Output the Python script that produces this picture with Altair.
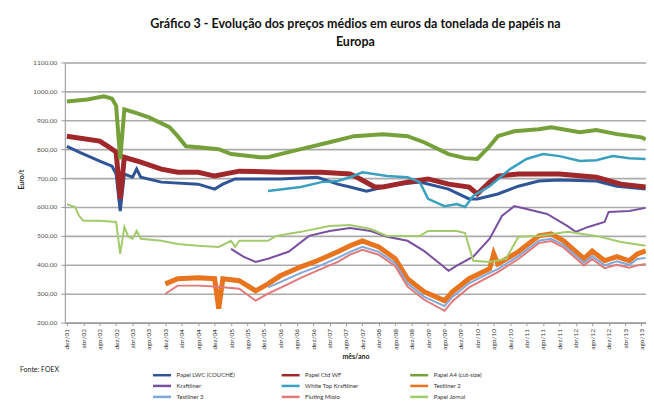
import json
import altair as alt
import pandas as pd

# Series names (legend order) and colours
names = [
    "Papel LWC (COUCHÉ)", "Papel Ctd WF", "Papel A4 (cut-size)",
    "Kraftliner", "White Top Kraftliner", "Testliner 2",
    "Testliner 3", "Fluting Miolo", "Papel Jornal",
]
colors = ["#2F5597", "#A0282A", "#76A13A", "#7950A0", "#3AA0BF",
          "#E9741E", "#7FA8DC", "#E27979", "#A3CB6B"]
widths = [3, 5, 4, 2, 2.5, 5, 2, 2, 2]

# month index: 0 = dez/01
lwc_m = [0, 3, 8, 11, 12, 13, 14, 16, 17, 18, 23, 32, 36, 38, 41, 52, 61, 66, 69, 73, 78, 81, 86, 93, 98, 100, 105, 110, 115, 120, 129, 134, 141]
lwc_v = [810, 790, 759, 741, 714, 586, 714, 703, 731, 703, 686, 679, 662, 679, 697, 697, 703, 679, 669, 655, 672, 679, 686, 662, 628, 628, 645, 672, 690, 693, 690, 672, 662]

ctd_m = [0, 8, 10, 12, 13, 14, 18, 23, 27, 32, 36, 42, 52, 62, 69, 71, 75, 77, 83, 88, 93, 98, 100, 103, 105, 110, 120, 129, 135, 141]
ctd_v = [845, 828, 810, 790, 628, 772, 755, 731, 720, 720, 707, 724, 720, 720, 714, 700, 669, 669, 686, 697, 679, 669, 645, 686, 707, 714, 714, 703, 679, 669]

a4_m = [0, 5, 9, 11, 12, 13, 14, 17, 20, 25, 27, 29, 32, 37, 40, 47, 49, 52, 57, 64, 70, 77, 83, 87, 93, 97, 100, 103, 105, 109, 115, 118, 125, 129, 134, 140, 141]
a4_v = [965, 972, 983, 975, 950, 765, 938, 925, 910, 876, 845, 810, 807, 800, 783, 772, 772, 783, 800, 824, 845, 852, 845, 824, 783, 769, 766, 810, 845, 862, 869, 876, 859, 866, 852, 841, 834]

kraft_m = [40, 43, 46, 49, 54, 59, 64, 69, 74, 78, 83, 87, 91, 93, 95, 99, 103, 106, 109, 112, 117, 122, 124, 127, 131, 132, 137, 141]
kraft_v = [455, 428, 410, 421, 445, 500, 517, 527, 517, 497, 483, 448, 403, 379, 397, 428, 490, 569, 603, 593, 576, 534, 514, 531, 548, 583, 586, 597]

wtk_m = [49, 57, 62, 66, 69, 72, 78, 83, 86, 88, 92, 95, 97, 99, 103, 108, 112, 116, 120, 125, 129, 133, 137, 141]
wtk_v = [655, 669, 686, 690, 703, 720, 707, 703, 686, 628, 603, 610, 600, 638, 672, 731, 766, 783, 776, 759, 762, 776, 769, 766]

tl2_m = [24, 27, 32, 36, 37, 38, 42, 46, 49, 52, 57, 61, 66, 69, 72, 76, 80, 83, 87, 92, 94, 98, 103, 104, 105, 110, 115, 118, 121, 126, 128, 131, 134, 137, 139, 141]
tl2_v = [334, 352, 355, 352, 248, 352, 345, 310, 334, 362, 393, 414, 445, 466, 483, 462, 421, 352, 307, 276, 307, 352, 386, 438, 403, 445, 500, 507, 483, 421, 448, 414, 428, 414, 438, 448]

tl3_m = [49, 52, 57, 61, 66, 69, 72, 76, 80, 83, 87, 92, 94, 98, 103, 105, 110, 115, 118, 121, 126, 128, 131, 134, 137, 139, 141]
tl3_v = [322, 340, 372, 393, 424, 445, 462, 445, 405, 336, 290, 257, 290, 336, 372, 385, 430, 483, 490, 468, 407, 430, 398, 412, 400, 420, 424]

flu_m = [24, 27, 32, 36, 42, 46, 49, 52, 57, 61, 66, 69, 72, 76, 80, 83, 87, 92, 94, 98, 103, 105, 110, 115, 118, 121, 126, 128, 131, 134, 137, 139, 141]
flu_v = [300, 328, 328, 325, 317, 276, 300, 320, 355, 380, 410, 435, 452, 435, 395, 325, 280, 241, 275, 322, 360, 375, 420, 475, 482, 460, 398, 420, 388, 400, 390, 398, 403]

jor_m = [0, 2, 3, 4, 8, 12, 13, 14, 15, 16, 17, 18, 23, 27, 32, 37, 40, 41, 42, 49, 51, 57, 64, 69, 74, 78, 86, 88, 95, 97, 99, 103, 107, 110, 115, 122, 129, 135, 141]
jor_v = [610, 600, 569, 552, 552, 548, 438, 531, 497, 490, 517, 490, 483, 472, 466, 462, 483, 462, 483, 483, 500, 514, 534, 538, 524, 500, 500, 517, 517, 510, 414, 410, 421, 497, 500, 514, 500, 479, 466]

series = [(lwc_m, lwc_v), (ctd_m, ctd_v), (a4_m, a4_v), (kraft_m, kraft_v),
          (wtk_m, wtk_v), (tl2_m, tl2_v), (tl3_m, tl3_v), (flu_m, flu_v),
          (jor_m, jor_v)]

# Tick labels (every 4 months from dez/01)
meses = ["jan", "fev", "mar", "abr", "mai", "jun", "jul", "ago", "set", "out", "nov", "dez"]
tick_months = list(range(0, 141, 4))
tick_labels = [f"{meses[(11 + m) % 12]}/{(2001 + (11 + m) // 12) % 100:02d}" for m in tick_months]
y_ticks = list(range(200, 1101, 100))

rows = []
for i, (name, (ms, vs)) in enumerate(zip(names, series)):
    for m, v in zip(ms, vs):
        rows.append({"serie": name, "m": m, "v": v, "w": widths[i], "ord": i})
df = pd.DataFrame(rows)

label_expr = json.dumps(tick_labels) + "[round(datum.value/4)]"

lines = alt.Chart(df).mark_line(interpolate="linear").encode(
    x=alt.X("m:Q",
            scale=alt.Scale(domain=[-0.5, 141.1], nice=False, zero=False),
            axis=alt.Axis(values=tick_months, labelExpr=label_expr, labelAngle=270,
                          labelAlign="right", labelBaseline="middle", labelFontSize=6.5,
                          labelColor="#333333", labelPadding=3, grid=False,
                          domainColor="#9a9a9a", tickColor="#9a9a9a", tickSize=3,
                          title="mês/ano", titleFontSize=7, titleFontWeight="bold",
                          titleY=34, titleBaseline="middle", titleColor="#222222",
                          labelOverlap=False)),
    y=alt.Y("v:Q",
            scale=alt.Scale(domain=[200, 1100], nice=False, zero=False),
            axis=alt.Axis(values=y_ticks,
                          labelExpr="replace(format(datum.value, '.2f'), '.', ',')",
                          labelFontSize=6.5, labelColor="#555555", labelPadding=4,
                          gridColor="#ababab", gridWidth=1.6, domainColor="#9a9a9a",
                          tickColor="#9a9a9a", tickSize=4,
                          title="Euro/t", titleFontSize=7, titleFontWeight="bold",
                          titleX=-43, titleY=117, titleAngle=270, titleAlign="center",
                          titleBaseline="middle", titleColor="#222222")),
    color=alt.Color("serie:N", sort=names,
                    scale=alt.Scale(domain=names, range=colors),
                    legend=alt.Legend(title=None, orient="none", legendX=90, legendY=309,
                                      columns=3, direction="horizontal",
                                      symbolType="M-2,0L4,0", symbolSize=36,
                                      symbolStrokeWidth=2.5, labelOffset=13,
                                      labelFontSize=6, labelColor="#333333",
                                      columnPadding=41, rowPadding=0,
                                      gridAlign="all", labelLimit=200)),
    strokeWidth=alt.StrokeWidth("w:Q", scale=None),
    order=alt.Order("m:Q"),
)

fonte = alt.Chart(pd.DataFrame({"t": ["Fonte: FOEX"]})).mark_text(
    align="left", baseline="middle", fontSize=7, color="#222222", font="Lato"
).encode(text="t:N", x=alt.value(-45), y=alt.value(309))

chart = alt.layer(lines, fonte).properties(
    width=583, height=261,
    title=alt.TitleParams(
        ["Gráfico 3 - Evolução dos preços médios em euros da tonelada de papéis na", "Europa"],
        fontSize=12.5, font="Lato", fontWeight="bold", color="#111111",
        anchor="middle", offset=11, lineHeight=18),
    autosize=alt.AutoSizeParams(type="none"),
    padding={"left": 57, "top": 54, "right": 0, "bottom": 77},
).configure_view(stroke=None).configure(font="Lato")

chart.save("out.html", embed_options={"renderer": "svg", "actions": False})
